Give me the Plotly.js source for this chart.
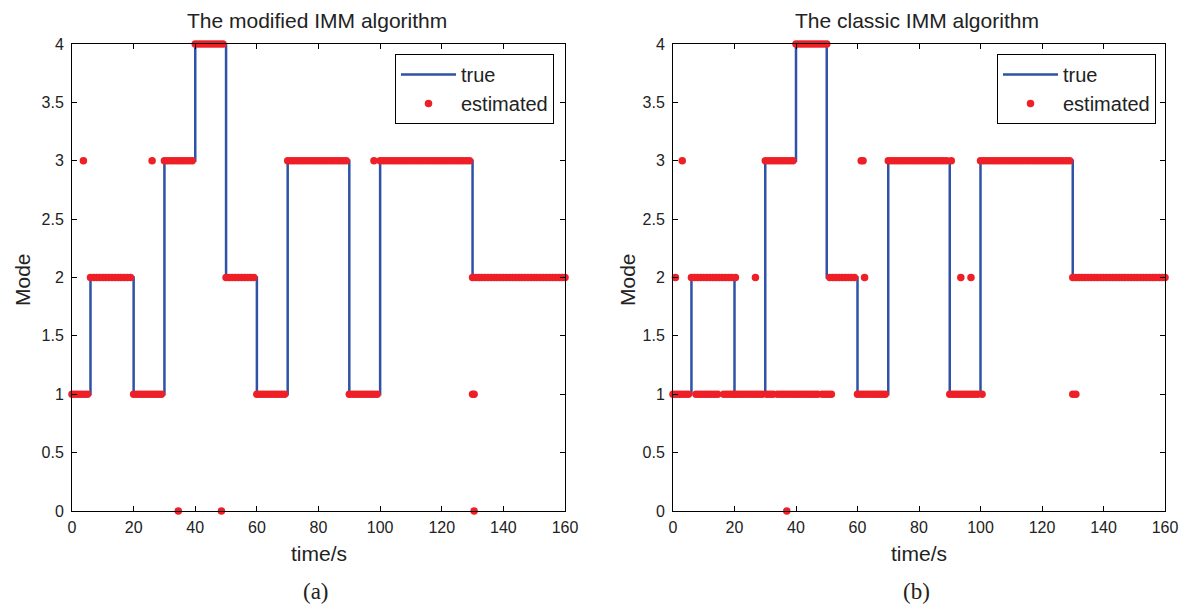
<!DOCTYPE html>
<html>
<head>
<meta charset="utf-8">
<script src="https://cdn.plot.ly/plotly-3.0.1.min.js"></script>
<style>html,body{margin:0;padding:0;background:#fff;}#chart{width:1182px;height:605px;}</style>
</head>
<body>
<div id="chart"></div>
<script>
// ---- data ----
// true mode: switching times and mode held from that time on
const trueTimes = [0, 6, 20, 30, 40, 50, 60, 70, 90, 100, 130, 160];
const trueModes = [1, 2, 1, 3, 4, 2, 1, 3, 1, 3, 2, 2];

// estimated mode, sampled every second, t = 0..160
const estTimes = [
  0,1,2,3,4,5,6,7,8,9,10,11,12,13,14,15,16,17,18,19,
  20,21,22,23,24,25,26,27,28,29,30,31,32,33,34,35,36,37,38,39,
  40,41,42,43,44,45,46,47,48,49,50,51,52,53,54,55,56,57,58,59,
  60,61,62,63,64,65,66,67,68,69,70,71,72,73,74,75,76,77,78,79,
  80,81,82,83,84,85,86,87,88,89,90,91,92,93,94,95,96,97,98,99,
  100,101,102,103,104,105,106,107,108,109,110,111,112,113,114,115,116,117,118,119,
  120,121,122,123,124,125,126,127,128,129,130,131,132,133,134,135,136,137,138,139,
  140,141,142,143,144,145,146,147,148,149,150,151,152,153,154,155,156,157,158,159,160
];
// (a) modified IMM
const estModified = [
  1,1,1,1,1,1,2,2,2,2,2,2,2,2,2,2,2,2,2,2,
  1,1,1,1,1,1,1,1,1,1,3,3,3,3,3,3,3,3,3,3,
  4,4,4,4,4,4,4,4,4,4,2,2,2,2,2,2,2,2,2,2,
  1,1,1,1,1,1,1,1,1,1,3,3,3,3,3,3,3,3,3,3,
  3,3,3,3,3,3,3,3,3,3,1,1,1,1,1,1,1,1,1,1,
  3,3,3,3,3,3,3,3,3,3,3,3,3,3,3,3,3,3,3,3,
  3,3,3,3,3,3,3,3,3,3,2,2,2,2,2,2,2,2,2,2,
  2,2,2,2,2,2,2,2,2,2,2,2,2,2,2,2,2,2,2,2,2
];
// isolated wrong estimates of (a)
const outModifiedT = [3.7, 26, 34.5, 48.5, 98, 130, 130.5, 130.5];
const outModifiedM = [3,   3,  0,    0,    3,  1,   1,     0];

// (b) classic IMM
const estClassic = [
  1,1,1,1,1,1,2,2,2,2,2,2,2,2,2,2,2,2,2,2,
  1,1,1,1,1,1,1,1,1,1,3,3,3,3,3,3,3,3,3,3,
  4,4,4,4,4,4,4,4,4,4,4,2,2,2,2,2,2,2,2,2,
  1,1,1,1,1,1,1,1,1,1,3,3,3,3,3,3,3,3,3,3,
  3,3,3,3,3,3,3,3,3,3,1,1,1,1,1,1,1,1,1,1,
  3,3,3,3,3,3,3,3,3,3,3,3,3,3,3,3,3,3,3,3,
  3,3,3,3,3,3,3,3,3,3,2,2,2,2,2,2,2,2,2,2,
  2,2,2,2,2,2,2,2,2,2,2,2,2,2,2,2,2,2,2,2,2
];
// isolated wrong estimates of (b)
const outClassicT = [0.8, 3, 7.5, 8.5, 9.5, 10.5, 11.5, 12.5, 13.5, 14.5, 16.5, 17.5, 18.5, 19.5, 20.3, 26.8,
  30.5, 31.5, 32.5, 34, 35, 36, 37, 38, 39, 40, 41, 42, 43, 44, 45, 46, 47, 48.5, 49.5, 50.5, 51.5,
  37, 61.2, 61.8, 62.3, 90.5, 93.6, 96.9, 100.5, 130, 131];
const outClassicM = [2, 3, 1, 1, 1, 1, 1, 1, 1, 1, 1, 1, 1, 1, 2, 2,
  1, 1, 1, 1, 1, 1, 1, 1, 1, 1, 1, 1, 1, 1, 1, 1, 1, 1, 1, 1, 1,
  0, 3, 3, 2, 3, 2, 2, 1, 1, 1];

const panelTitles = ["The modified IMM algorithm", "The classic IMM algorithm"];
const panelLabels = ["(a)", "(b)"];
const xLabel = "time/s";
const yLabel = "Mode";

// ---- styling ----
const BLUE = "#2f52a6";
const RED = "#ee1f26";
const SANS = "Liberation Sans, Arial, Helvetica, sans-serif";
const SERIF = "Liberation Serif, Times New Roman, serif";

function trueTrace(xa, ya, lg) {
  return {x: trueTimes, y: trueModes, xaxis: xa, yaxis: ya, legend: lg, name: "true",
    type: "scatter", mode: "lines", line: {color: BLUE, width: 2.5, shape: "hv"}, cliponaxis: false};
}
function estTrace(xa, ya, lg, est, ot, om) {
  return {x: estTimes.concat(ot), y: est.concat(om), xaxis: xa, yaxis: ya, legend: lg, name: "estimated",
    type: "scatter", mode: "markers", marker: {color: RED, size: 7.5, line: {width: 0}}, cliponaxis: false};
}

const data = [
  trueTrace("x", "y", "legend"),
  estTrace("x", "y", "legend", estModified, outModifiedT, outModifiedM),
  trueTrace("x2", "y2", "legend2"),
  estTrace("x2", "y2", "legend2", estClassic, outClassicT, outClassicM)
];

const W = 1182, H = 605;
const L = [72, 565], R = [673, 1165], TOP = 44, BOT = 511;
function px(v) { return v / W; }
function py(v) { return 1 - v / H; }

const axisX = (dom, anchor) => ({domain: dom, anchor: anchor, range: [0, 160], dtick: 20, tick0: 0,
  showgrid: false, zeroline: false, showline: true, linecolor: "#000", linewidth: 1, mirror: "ticks",
  ticks: "inside", ticklen: 5, tickcolor: "#000", tickfont: {family: SANS, size: 16, color: "#222"},
  fixedrange: true, ticklabelstandoff: 2});
const axisY = (anchor) => ({domain: [py(BOT), py(TOP)], anchor: anchor, range: [0, 4], dtick: 0.5, tick0: 0,
  showgrid: false, zeroline: false, showline: true, linecolor: "#000", linewidth: 1, mirror: "ticks",
  ticks: "inside", ticklen: 5, tickcolor: "#000", tickfont: {family: SANS, size: 16, color: "#222"},
  fixedrange: true, ticklabelstandoff: 4});

const legendStyle = (xr) => ({x: px(xr), y: py(54), xanchor: "right", yanchor: "top",
  bordercolor: "#000", borderwidth: 1, bgcolor: "#fff",
  font: {family: SANS, size: 20, color: "#222"}, tracegroupgap: 0, itemwidth: 55});

const annotations = [];
[[L, 0], [R, 1]].forEach(([dom, i]) => {
  const cx = px((dom[0] + dom[1]) / 2);
  annotations.push({text: panelTitles[i], x: cx - px(2), y: py(21), xref: "paper", yref: "paper", showarrow: false,
    xanchor: "center", yanchor: "middle", font: {family: SANS, size: 21, color: "#222"}});
  annotations.push({text: xLabel, x: cx, y: py(553), xref: "paper", yref: "paper", showarrow: false,
    xanchor: "center", yanchor: "middle", font: {family: SANS, size: 21, color: "#222"}});
  annotations.push({text: panelLabels[i], x: cx - px(3), y: py(591), xref: "paper", yref: "paper", showarrow: false,
    xanchor: "center", yanchor: "middle", font: {family: SERIF, size: 23, color: "#222"}});
  annotations.push({text: yLabel, x: px(i === 0 ? 22 : 627), y: py(280), xref: "paper", yref: "paper",
    showarrow: false, textangle: -90, xanchor: "center", yanchor: "middle", font: {family: SANS, size: 21, color: "#222"}});
});

const layout = {
  width: W, height: H, margin: {l: 0, r: 0, t: 0, b: 0},
  paper_bgcolor: "#fff", plot_bgcolor: "#fff", showlegend: true,
  xaxis: axisX([px(L[0]), px(L[1])], "y"), yaxis: axisY("x"),
  xaxis2: axisX([px(R[0]), px(R[1])], "y2"), yaxis2: axisY("x2"),
  legend: legendStyle(554), legend2: legendStyle(1156),
  annotations: annotations
};

Plotly.newPlot("chart", data, layout, {staticPlot: true, displayModeBar: false});
</script>
</body>
</html>
